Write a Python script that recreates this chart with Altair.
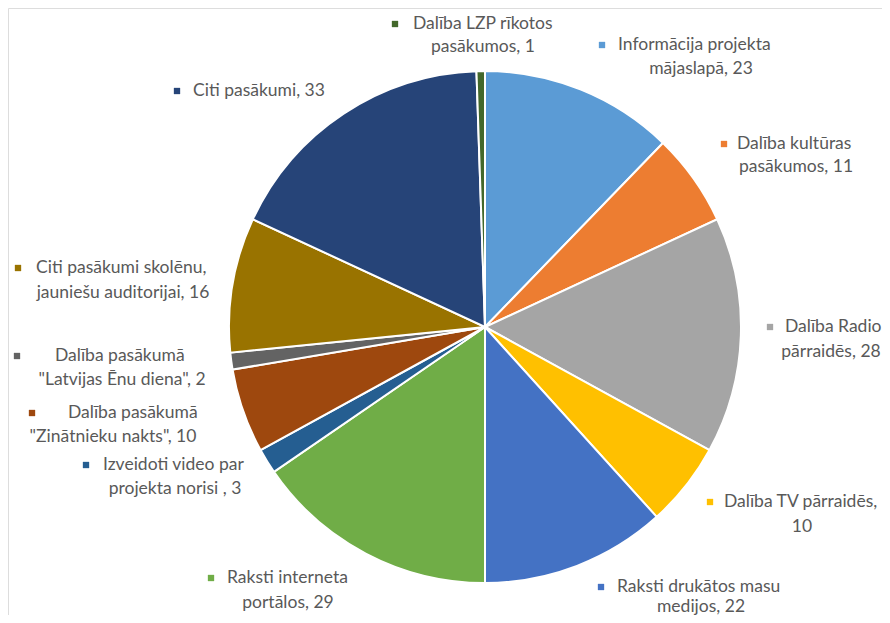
import altair as alt
import pandas as pd

# Data (clockwise from 12 o'clock)
categories = [
    "Informācija projekta mājaslapā",
    "Dalība kultūras pasākumos",
    "Dalība Radio pārraidēs",
    "Dalība TV pārraidēs",
    "Raksti drukātos masu medijos",
    "Raksti interneta portālos",
    "Izveidoti video par projekta norisi",
    "Dalība pasākumā \"Zinātnieku nakts\"",
    "Dalība pasākumā \"Latvijas Ēnu diena\"",
    "Citi pasākumi skolēnu, jauniešu auditorijai",
    "Citi pasākumi",
    "Dalība LZP rīkotos pasākumos",
]
values = [23, 11, 28, 10, 22, 29, 3, 10, 2, 16, 33, 1]
colors = ["#5B9BD5", "#ED7D31", "#A5A5A5", "#FFC000", "#4472C4", "#70AD47",
          "#255E91", "#9E480E", "#636363", "#997300", "#264478", "#43682B"]

# Label text lines (as in the chart)
label_line1 = [
    "Informācija projekta", "Dalība kultūras", "Dalība Radio", "Dalība TV pārraidēs,",
    "Raksti drukātos masu", "Raksti interneta", "Izveidoti video par", "Dalība pasākumā",
    "Dalība pasākumā", "Citi pasākumi skolēnu,", "Citi pasākumi, 33", "Dalība LZP rīkotos",
]
label_line2 = [
    "mājaslapā, 23", "pasākumos, 11", "pārraidēs, 28", "10",
    "medijos, 22", "portālos, 29", "projekta norisi , 3", "\"Zinātnieku nakts\", 10",
    "\"Latvijas Ēnu diena\", 2", "jauniešu auditorijai, 16", "", "pasākumos, 1",
]

# Label layout (page pixels)
marker_x = [602, 724, 770, 710, 601, 211, 86, 32, 17, 18, 177, 395]
line1_x = [618, 737, 785, 724, 617, 227, 103, 68, 55, 36, 193, 413]   # left edge of line 1
line1_y = [45, 144, 327, 502, 587, 578, 465, 413, 356, 268, 91, 24]
line2_cx = [701, 796, 831, 802, 701, 288, 175, 113, 122, 123, 0, 483]  # centre of line 2
line2_y = [69, 167, 352, 527, 607, 603, 489, 437, 380, 293, 0, 47]

PAGE_MARGIN = 8
PIE_CX, PIE_CY, PIE_R = 485, 327, 256
FONT, FSIZE, TCOLOR = "Lato", 17.5, "#595959"

df = pd.DataFrame({"cat": categories, "value": values, "idx": list(range(len(values)))})

l1 = pd.DataFrame({"t": label_line1,
                   "x": [v - PAGE_MARGIN for v in line1_x],
                   "y": [v - PAGE_MARGIN for v in line1_y]})
l2 = pd.DataFrame({"t": label_line2,
                   "x": [v - PAGE_MARGIN for v in line2_cx],
                   "y": [v - PAGE_MARGIN for v in line2_y]})
l2 = l2[l2["t"] != ""]
mk = pd.DataFrame({"cat": categories,
                   "x": [v - PAGE_MARGIN for v in marker_x],
                   "y": [v - PAGE_MARGIN for v in line1_y]})

color_scale = alt.Scale(domain=categories, range=colors)

pie = alt.Chart(df).mark_arc(outerRadius=PIE_R, stroke="white", strokeWidth=2).encode(
    theta=alt.Theta("value:Q", stack=True),
    color=alt.Color("cat:N", scale=color_scale, legend=None),
    order=alt.Order("idx:Q"),
    x=alt.value(PIE_CX - PAGE_MARGIN),
    y=alt.value(PIE_CY - PAGE_MARGIN),
)

text1 = alt.Chart(l1).mark_text(
    font=FONT, fontSize=FSIZE, color=TCOLOR, align="left", baseline="middle"
).encode(
    x=alt.X("x:Q", scale=None, axis=None),
    y=alt.Y("y:Q", scale=None, axis=None),
    text="t:N",
)

text2 = alt.Chart(l2).mark_text(
    font=FONT, fontSize=FSIZE, color=TCOLOR, align="center", baseline="middle"
).encode(
    x=alt.X("x:Q", scale=None, axis=None),
    y=alt.Y("y:Q", scale=None, axis=None),
    text="t:N",
)

markers = alt.Chart(mk).mark_square(size=40, opacity=1).encode(
    x=alt.X("x:Q", scale=None, axis=None),
    y=alt.Y("y:Q", scale=None, axis=None),
    color=alt.Color("cat:N", scale=color_scale, legend=None),
)

chart = alt.layer(pie, text1, text2, markers).properties(
    width=874, height=607, padding=0, autosize=alt.AutoSizeParams(type="none")
).configure_view(stroke=None).configure(background="white")

chart.save("out.html", embed_options={"renderer": "svg", "actions": False})
